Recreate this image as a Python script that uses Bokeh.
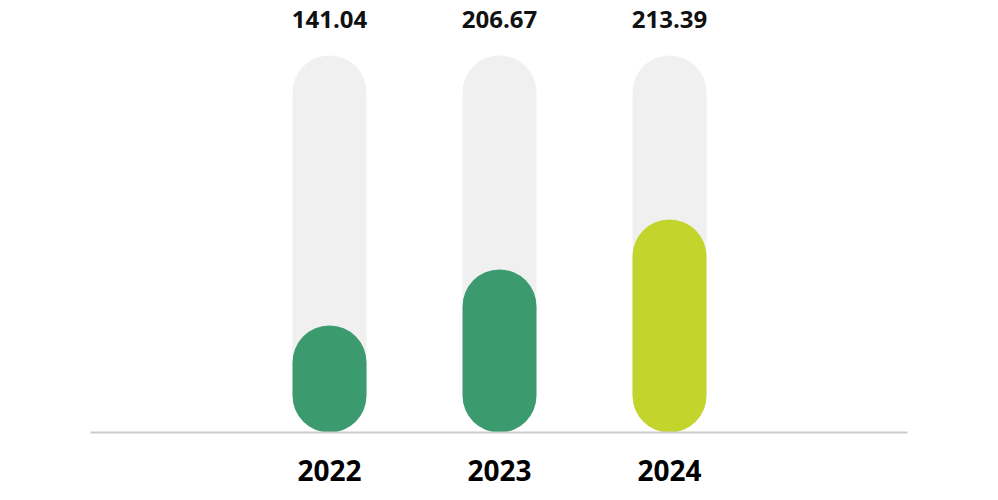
from bokeh.plotting import figure
from bokeh.models import Range1d, FixedTicker, ColumnDataSource
from bokeh.core.properties import value
from bokeh.embed import file_html
from bokeh.resources import INLINE

# ---- data ----
years = ["2022", "2023", "2024"]
labels = ["141.04", "206.67", "213.39"]
bar_heights = [107, 163, 213]      # filled bar height (chart units)
track_max = 377                    # height of the grey background track
colors = ["#3c9a6f", "#3c9a6f", "#c3d42c"]

xs = list(range(len(years)))

p = figure(width=998, height=500, output_backend="svg", toolbar_location=None,
           x_range=Range1d(-1.406, 3.4), y_range=Range1d(0, 432),
           min_border_left=90, min_border_right=91, min_border_top=0,
           min_border_bottom=68)
p.outline_line_color = None
p.background_fill_color = "white"
p.border_fill_color = "white"
p.grid.visible = False
p.yaxis.visible = False

bw = 74 / 170
track_src = ColumnDataSource(dict(x=xs, top=[track_max] * len(xs)))
bar_src = ColumnDataSource(dict(x=xs, top=bar_heights, color=colors,
                                label=labels, ly=[track_max] * len(xs)))

p.vbar(x="x", top="top", bottom=0, width=bw, source=track_src,
       fill_color="#f0f0f0", line_color=None, border_radius=37)
p.vbar(x="x", top="top", bottom=0, width=bw, source=bar_src,
       fill_color="color", line_color=None, border_radius=37)

p.text(x="x", y="ly", text="label", source=bar_src, y_offset=-36,
       text_align="center", text_baseline="middle",
       text_font=value("Open Sans"), text_font_size="24px",
       text_font_style="bold", text_color="#111111")

ax = p.xaxis[0]
ax.ticker = FixedTicker(ticks=xs)
ax.major_label_overrides = {i: y for i, y in zip(xs, years)}
ax.axis_line_color = "#cccccc"
ax.axis_line_width = 2
ax.major_tick_line_color = None
ax.minor_tick_line_color = None
ax.major_label_standoff = 21
ax.major_label_text_font = "Open Sans"
ax.major_label_text_font_size = "28px"
ax.major_label_text_font_style = "bold"
ax.major_label_text_color = "#000000"

open("out.html", "w").write(file_html(p, INLINE))
